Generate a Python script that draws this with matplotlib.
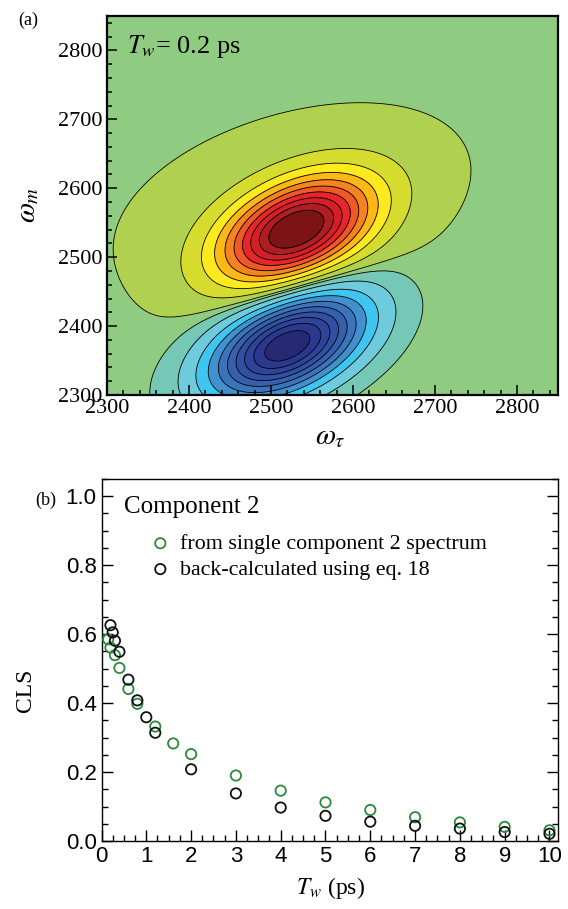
import numpy as np
import matplotlib
matplotlib.use("Agg")
import matplotlib.pyplot as plt
from matplotlib.ticker import MultipleLocator

plt.rcParams['font.family'] = ['Liberation Serif', 'DejaVu Serif']
plt.rcParams['mathtext.fontset'] = 'stix'

# ---------------- Panel (a): 2D IR spectrum model (peak parameters) ----------------
peak_x0 = [2531, 2520, 2520]
peak_y0 = [2540, 2372, 2575]
peak_sigma_u = [68, 70, 172]
peak_sigma_v = [41, 40, 100]
peak_theta_deg = [33, 33, 22]
peak_amp = [1.0, -1.0, 0.045]

contour_levels = [-1.5, -0.9, -0.8, -0.7, -0.6, -0.5, -0.4, -0.3, -0.2, -0.1, -0.025,
                  0.02, 0.1, 0.2, 0.3, 0.4, 0.5, 0.6, 0.7, 0.8, 0.9, 1.5]
band_colors = ['#262a75', '#2b3890', '#2e4399', '#3150a3', '#365fad', '#3b74bb',
               '#4190cf', '#3ec6f0', '#6ecbdd', '#75c7b6', '#8fcb80',
               '#afd14f', '#d5dc2e', '#fdea1e', '#fcb816', '#f58320', '#ef5a24',
               '#e8262a', '#d41f26', '#b01e23', '#7c1416']

# ---------------- Panel (b): CLS decay ----------------
tw_single = [0.15, 0.2, 0.3, 0.4, 0.6, 0.8, 1.2, 1.6, 2, 3, 4, 5, 6, 7, 8, 9, 10]
cls_single = [0.585, 0.561, 0.539, 0.502, 0.441, 0.398, 0.332, 0.283, 0.252, 0.19,
              0.146, 0.112, 0.090, 0.069, 0.054, 0.041, 0.031]
tw_back = [0.2, 0.25, 0.3, 0.4, 0.6, 0.8, 1.0, 1.2, 2, 3, 4, 5, 6, 7, 8, 9, 10]
cls_back = [0.626, 0.605, 0.581, 0.549, 0.468, 0.408, 0.359, 0.314, 0.208, 0.138,
            0.097, 0.073, 0.056, 0.044, 0.036, 0.026, 0.021]

W, H = 568, 909
fig = plt.figure(figsize=(W / 100, H / 100), dpi=100)


def box(l, t, r, b):
    return [l / W, 1 - b / H, (r - l) / W, (b - t) / H]


# ---- panel (a)
ax1 = fig.add_axes(box(107, 16, 558, 395))
xg = np.linspace(2300, 2850, 500)
yg = np.linspace(2300, 2850, 500)
X, Y = np.meshgrid(xg, yg)
Z = np.zeros_like(X)
for x0, y0, su, sv, th, a in zip(peak_x0, peak_y0, peak_sigma_u, peak_sigma_v,
                                  peak_theta_deg, peak_amp):
    t = np.deg2rad(th)
    u = (X - x0) * np.cos(t) + (Y - y0) * np.sin(t)
    v = -(X - x0) * np.sin(t) + (Y - y0) * np.cos(t)
    Z += a * np.exp(-0.5 * (u / su) ** 2 - 0.5 * (v / sv) ** 2)

ax1.contourf(X, Y, Z, levels=contour_levels, colors=band_colors)
ax1.contour(X, Y, Z, levels=contour_levels[1:-1], colors='black', linewidths=0.6,
            linestyles='solid')
ax1.set_xlim(2300, 2850)
ax1.set_ylim(2300, 2850)
ax1.set_xticks([2300, 2400, 2500, 2600, 2700, 2800])
ax1.set_yticks([2300, 2400, 2500, 2600, 2700, 2800])
ax1.xaxis.set_minor_locator(MultipleLocator(20))
ax1.yaxis.set_minor_locator(MultipleLocator(20))
ax1.tick_params(which='both', direction='in', top=False, right=False,
                labelsize=16, width=1.1, pad=3)
ax1.tick_params(which='major', length=7)
ax1.tick_params(which='minor', length=3.5)
for s in ax1.spines.values():
    s.set_linewidth(1.6)
ax1.text(0.045, 0.955, r'$T_w$= 0.2 ps', transform=ax1.transAxes, fontsize=19,
         ha='left', va='top')

fig.text(18 / W, 1 - 20 / H, '(a)', fontsize=13, ha='left', va='center')
fig.text(28 / W, 1 - 205 / H, r'$\omega_m$', fontsize=21, rotation=90,
         ha='center', va='center')
fig.text(330 / W, 1 - 437 / H, r'$\omega_\tau$', fontsize=21, ha='center', va='center')

# ---- panel (b)
ax2 = fig.add_axes(box(101.5, 479, 558, 841))
ax2.scatter(tw_single, cls_single, s=55, facecolors='none', edgecolors='#2a8a3c',
            linewidths=1.3, label='from single component 2 spectrum', zorder=3)
ax2.scatter(tw_back, cls_back, s=55, facecolors='none', edgecolors='#111111',
            linewidths=1.3, label='back-calculated using eq. 18', zorder=3)
ax2.set_xlim(0, 10.19)
ax2.set_ylim(0, 1.05)
ax2.set_xticks(range(0, 11))
ax2.set_yticks([0, 0.2, 0.4, 0.6, 0.8, 1.0])
ax2.set_yticklabels(['0.0', '0.2', '0.4', '0.6', '0.8', '1.0'])
ax2.xaxis.set_minor_locator(MultipleLocator(0.25))
ax2.yaxis.set_minor_locator(MultipleLocator(0.05))
ax2.tick_params(which='both', direction='in', top=False, right=True, width=1.0)
ax2.tick_params(which='major', length=8)
ax2.tick_params(which='minor', length=4)
for lab in ax2.get_xticklabels() + ax2.get_yticklabels():
    lab.set_family(['Liberation Sans', 'DejaVu Sans'])
    lab.set_fontsize(16)
for s in ax2.spines.values():
    s.set_linewidth(1.0)

ax2.text(0.05, 0.923, 'Component 2', transform=ax2.transAxes, fontsize=18,
         ha='left', va='center')
ax2.legend(loc='upper left', bbox_to_anchor=(0.10, 0.849), frameon=False,
           fontsize=15.8, handletextpad=0.3, borderaxespad=0, labelspacing=0.25,
           handlelength=1.2, borderpad=0)

fig.text(35 / W, 1 - 500 / H, '(b)', fontsize=13, ha='left', va='center')
fig.text(25 / W, 1 - 690 / H, 'CLS', fontsize=17, rotation=90, ha='center', va='center')
fig.text(330 / W, 1 - 888 / H, r'$T_w$ (ps)', fontsize=17, ha='center', va='center')

fig.savefig('out.png', dpi=100)
